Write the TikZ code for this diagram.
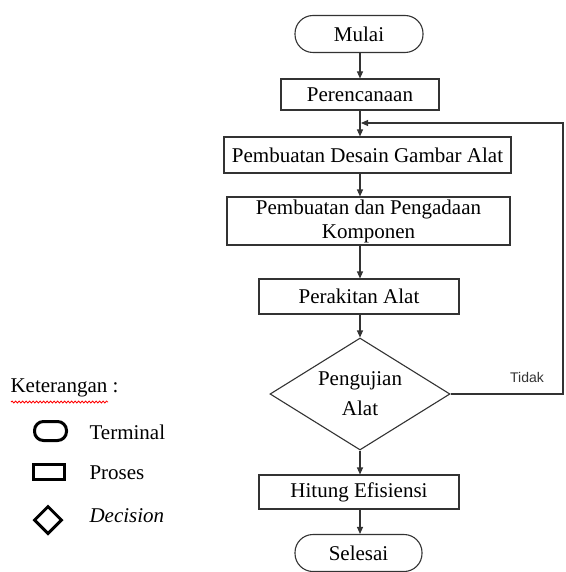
\documentclass[tikz,border=0pt]{standalone}
\usepackage{fontspec}
\setmainfont{Liberation Serif}
\newfontfamily\tidakfont{Liberation Sans}
\usetikzlibrary{arrows.meta,shapes.geometric,decorations.pathmorphing}
\begin{document}
\begin{tikzpicture}[x=1pt,y=-1pt,
  line width=1.1pt,
  flow/.style={draw=black!80, line width=1.1pt, inner sep=0pt, font=\fontsize{21}{24}\selectfont, text=black},
  termbox/.style={flow, rectangle, rounded corners=18pt, minimum width=128pt, minimum height=37pt},
  procbox/.style={flow, rectangle, minimum height=35pt},
  decbox/.style={flow, diamond, aspect=1.6, minimum width=180pt, minimum height=112pt, align=center, font=\fontsize{21}{30}\selectfont},
  conn/.style={draw=black!80, line width=1.1pt, -{Triangle[length=7pt,width=6pt]}},
  legicon/.style={draw=black, line width=3pt, inner sep=0pt},
  legtext/.style={anchor=west, inner sep=0pt, font=\fontsize{21}{24}\selectfont}
]
\useasboundingbox[fill=white] (0,0) rectangle (565,572);

% flowchart
\node[termbox] (mulai) at (359,34) {Mulai};
\node[procbox, minimum width=158pt, minimum height=31pt] (renc) at (360,94.5) {Perencanaan};
\node[procbox, minimum width=287pt, minimum height=36pt] (desain) at (367.5,155) {Pembuatan Desain Gambar Alat};
\node[procbox, minimum width=283pt, minimum height=48pt, align=center] (komp) at (368.5,221) {Pembuatan dan Pengadaan\\Komponen};
\node[procbox, minimum width=200pt, minimum height=35pt] (rakit) at (359,296.5) {Perakitan Alat};
\node[decbox] (uji) at (360,394) {Pengujian\\Alat};
\node[procbox, minimum width=200pt, minimum height=34pt] (hitung) at (359,492) {Hitung Efisiensi};
\node[termbox, minimum width=127pt] (selesai) at (358.5,553) {Selesai};

\coordinate (fbin) at (361,123);
\coordinate (fbc) at (563,123);

\draw[conn] (mulai.south -| renc.north) -- (renc.north);
\draw[conn] (renc.south) -- (renc.south |- desain.north);
\draw[conn] (renc.south |- desain.south) -- (renc.south |- komp.north);
\draw[conn] (renc.south |- komp.south) -- (renc.south |- rakit.north);
\draw[conn] (rakit.south -| uji.north) -- (uji.north);
\draw[conn] (uji.south) -- (uji.south |- hitung.north);
\draw[conn] (uji.south |- hitung.south) -- (uji.south |- selesai.north);
\draw[conn] (uji.east) -| (fbc) -- (fbin);

\node[font=\tidakfont\fontsize{14}{16}\selectfont, text=black!80, inner sep=0pt] (tidak) at (527,377) {Tidak};

% legend
\node[legtext] (ket) at (10,388) {Keterangan :};
\coordinate (wavyA) at (11,402);
\coordinate (wavyB) at (108,402);
\draw[red, line width=0.8pt, decorate, decoration={snake, amplitude=1pt, segment length=3.5pt}] (wavyA) -- (wavyB);

\node[legicon, rectangle, rounded corners=9pt, minimum width=32pt, minimum height=19pt] (lterm) at (50.5,431) {};
\node[legicon, rectangle, minimum width=31pt, minimum height=15pt] (lproc) at (49,472) {};
\node[legicon, diamond, minimum width=28pt, minimum height=28pt] (ldec) at (48,520) {};

\node[legtext] (tterm) at (89,432) {Terminal};
\node[legtext] (tproc) at (89,473) {Proses};
\node[legtext] (tdec) at (89,516) {\itshape Decision};
\end{tikzpicture}
\end{document}
